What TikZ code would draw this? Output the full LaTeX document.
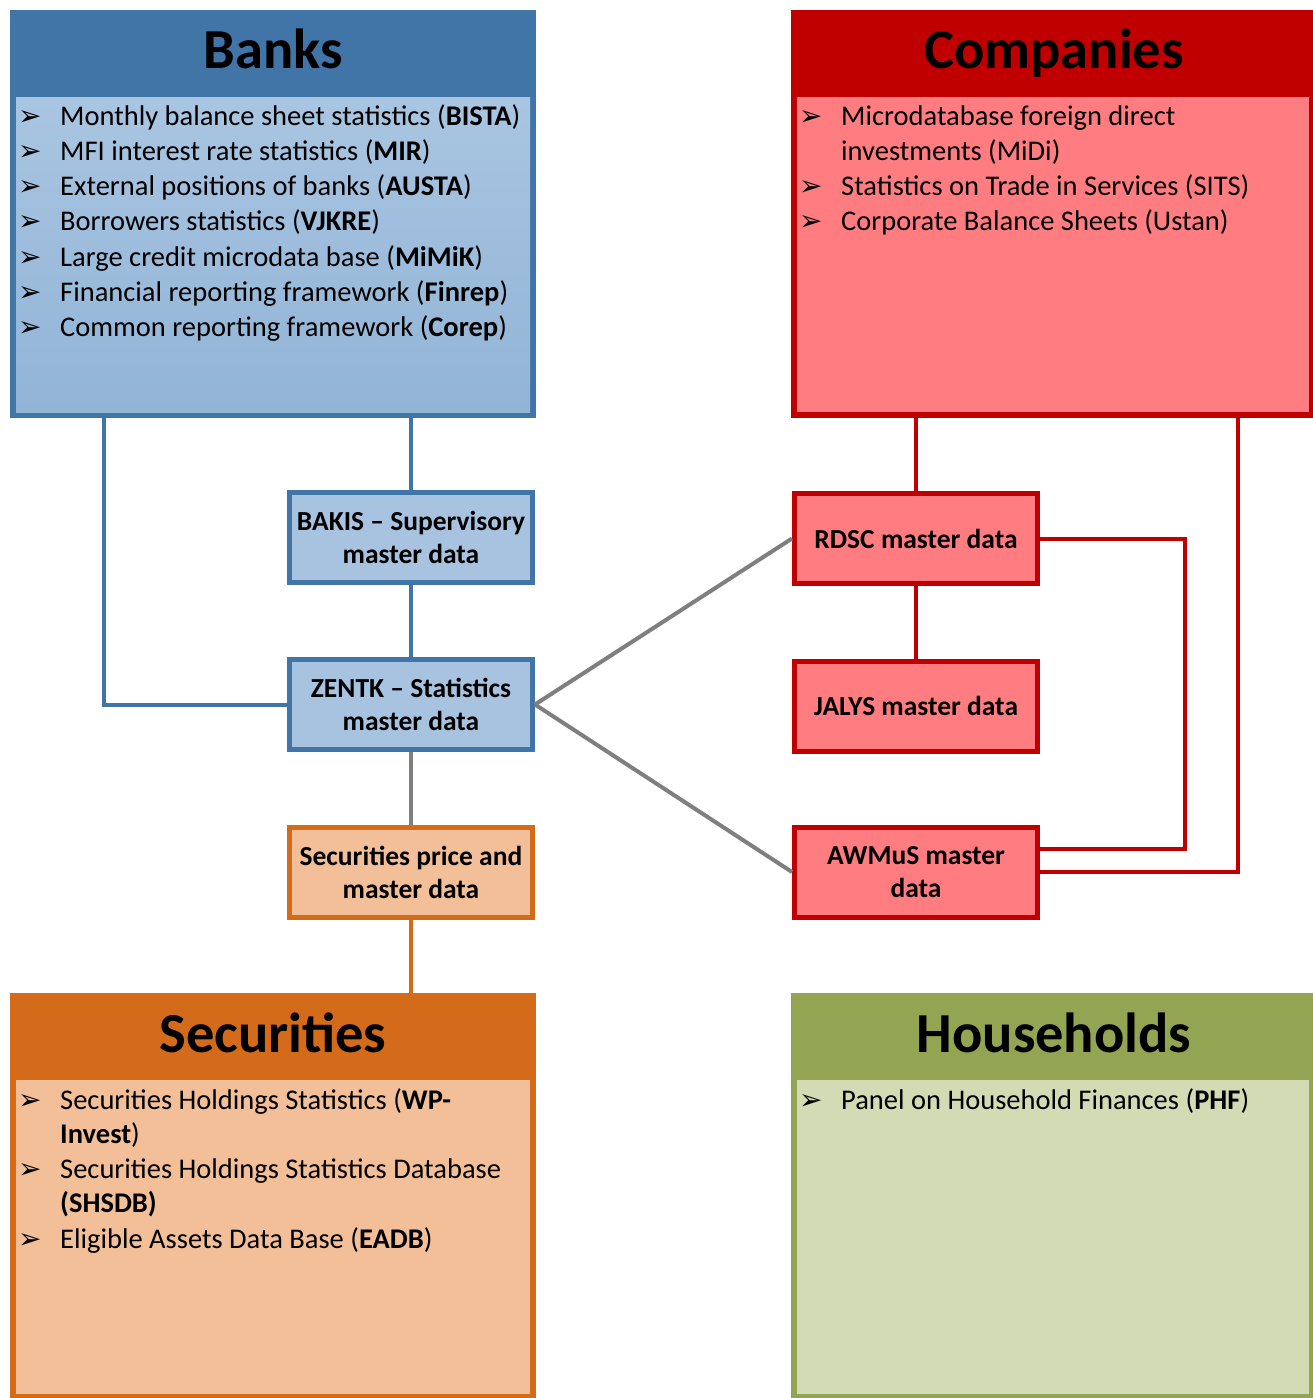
\documentclass[tikz,border=0pt]{standalone}
\usepackage{fontspec}
\setmainfont{Carlito}
\newfontfamily\symfont{DejaVu Sans}
\definecolor{bankdark}{HTML}{4174A7}
\definecolor{banktop}{HTML}{A9C5E1}
\definecolor{bankbot}{HTML}{92B4D7}
\definecolor{bankfill}{HTML}{A7C3E0}
\definecolor{compdark}{HTML}{C00000}
\definecolor{complight}{HTML}{FF7C80}
\definecolor{secdark}{HTML}{D46B1A}
\definecolor{seclight}{HTML}{F2BF98}
\definecolor{hhdark}{HTML}{93A553}
\definecolor{hhlight}{HTML}{D3DBB5}
\definecolor{conngray}{HTML}{7F7F7F}
\tikzset{
  item/.style={anchor=base west, inner sep=0pt, font=\fontsize{28.5}{35}\selectfont, text=black},
  bul/.style={anchor=base west, inner sep=0pt, font=\symfont\fontsize{28}{28}\selectfont, text=black},
  titletext/.style={anchor=base, inner sep=0pt, font=\fontsize{56.5}{60}\selectfont\bfseries, text=black},
  outerbox/.style={anchor=north west, inner sep=0pt, outer sep=0pt, draw=none},
  smallbox/.style={draw, line width=5pt, minimum width=243pt, minimum height=90pt, align=center,
     font=\fontsize{27.5}{33}\selectfont\bfseries, inner sep=0pt, text=black},
  conn/.style={line width=4pt},
}
\begin{document}
\begin{tikzpicture}[x=1pt,y=-1pt]
\useasboundingbox (0,0) rectangle (1313,1398);
\fill[white] (0,0) rectangle (1313,1398);

% ---------- Banks ----------
\node[outerbox, fill=bankdark, minimum width=526pt, minimum height=408pt] (banks) at (10,10) {};
\shade[top color=banktop, bottom color=bankbot] (16,97) rectangle (530,412);
\node[titletext] (banksT) at (273,68) {Banks};
\foreach \y/\t [count=\i] in {125/{Monthly balance sheet statistics (\textbf{BISTA})},
  160.3/{MFI interest rate statistics (\textbf{MIR})},
  195.6/{External positions of banks (\textbf{AUSTA})},
  230.9/{Borrowers statistics (\textbf{VJKRE})},
  266.2/{Large credit microdata base (\textbf{MiMiK})},
  301.5/{Financial reporting framework (\textbf{Finrep})},
  336.8/{Common reporting framework (\textbf{Corep})}} {
  \node[bul] (bb\i) at (18,\y) {➢};
  \node[item] (bi\i) at (60,\y) {\t};
}

% ---------- Companies ----------
\node[outerbox, fill=compdark, minimum width=522pt, minimum height=408pt] (comp) at (791,10) {};
\fill[complight] (797,97) rectangle (1309,412);
\node[titletext] (compT) at (1054,68) {Companies};
\node[bul] (cb1) at (799,125) {➢};
\node[item] (ci1a) at (841,125) {Microdatabase foreign direct};
\node[item] (ci1b) at (841,160) {investments (MiDi)};
\node[bul] (cb2) at (799,195) {➢};
\node[item] (ci2) at (841,195) {Statistics on Trade in Services (SITS)};
\node[bul] (cb3) at (799,230) {➢};
\node[item] (ci3) at (841,230) {Corporate Balance Sheets (Ustan)};

% ---------- Securities ----------
\node[outerbox, fill=secdark, minimum width=526pt, minimum height=405pt] (secs) at (10,993) {};
\fill[seclight] (16,1080) rectangle (530,1394);
\node[titletext] (secsT) at (273,1052) {Securities};
\node[bul] (sb1) at (18,1109) {➢};
\node[item] (si1a) at (60,1109) {Securities Holdings Statistics (\textbf{WP-}};
\node[item] (si1b) at (60,1143) {\textbf{Invest})};
\node[bul] (sb2) at (18,1178) {➢};
\node[item] (si2a) at (60,1178) {Securities Holdings Statistics Database};
\node[item] (si2b) at (60,1212) {\textbf{(SHSDB)}};
\node[bul] (sb3) at (18,1248) {➢};
\node[item] (si3) at (60,1248) {Eligible Assets Data Base (\textbf{EADB})};

% ---------- Households ----------
\node[outerbox, fill=hhdark, minimum width=522pt, minimum height=405pt] (hh) at (791,993) {};
\fill[hhlight] (797,1080) rectangle (1309,1394);
\node[titletext] (hhT) at (1054,1052) {Households};
\node[bul] (hb1) at (799,1109) {➢};
\node[item] (hi1) at (841,1109) {Panel on Household Finances (\textbf{PHF})};

% ---------- small boxes ----------
\node[smallbox, draw=bankdark, fill=bankfill] (bakis) at (411,537) {BAKIS -- Supervisory\\master data};
\node[smallbox, draw=bankdark, fill=bankfill] (zentk) at (411,704.5) {ZENTK -- Statistics\\master data};
\node[smallbox, draw=secdark, fill=seclight] (secp) at (411,872) {Securities price and\\master data};
\node[smallbox, draw=compdark, fill=complight] (rdsc) at (916,538.5) {RDSC master data};
\node[smallbox, draw=compdark, fill=complight] (jalys) at (916,706) {JALYS master data};
\node[smallbox, draw=compdark, fill=complight] (awmus) at (916,872) {AWMuS master\\data};

% ---------- connectors ----------
\coordinate (bk1) at (104,418);
\coordinate (cp2) at (1238,418);
\coordinate (rr) at (1185,849);
\draw[conn, bankdark] (bk1) |- (zentk.west);
\draw[conn, bankdark] (bakis.north) -- (bakis.north |- banks.south);
\draw[conn, bankdark] (bakis.south) -- (zentk.north);
\draw[conn, conngray] (zentk.south) -- (secp.north);
\draw[conn, secdark] (secp.south) -- (secp.south |- secs.north);
\draw[conn, conngray] (zentk.east) -- (rdsc.west);
\draw[conn, conngray] (zentk.east) -- (awmus.west);
\draw[conn, compdark] (rdsc.north) -- (rdsc.north |- comp.south);
\draw[conn, compdark] (rdsc.south) -- (jalys.north);
\draw[conn, compdark] (rdsc.east) -| (rr) -- (rr -| awmus.east);
\draw[conn, compdark] (cp2) |- (awmus.east);
\end{tikzpicture}
\end{document}
